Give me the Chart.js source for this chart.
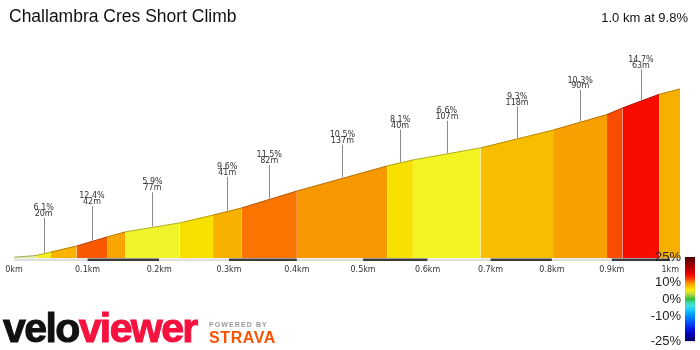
<!DOCTYPE html>
<html>
<head>
<meta charset="utf-8">
<script src="https://cdn.jsdelivr.net/npm/chart.js@4.4.1/dist/chart.umd.min.js"></script>
<style>
  body { margin: 0; background: #fff; }
  #marco { position: relative; width: 700px; height: 350px; overflow: hidden; font-family: "Liberation Sans", Arial, sans-serif; }
  #perfil, #escala { position: absolute; }
  #perfil { left: 0; top: 0; }
  #escala { left: 640px; top: 245px; }
  .titulo { position: absolute; color: #111; white-space: nowrap; }
  #nombre { left: 9px; top: 7px; font-size: 17.5px; line-height: 18px; }
  #resumen { right: 12px; top: 11px; font-size: 13px; line-height: 13px; }
  #logo { position: absolute; left: 3px; top: 308px; font-size: 41px; line-height: 41px; font-weight: bold; letter-spacing: -1.6px; -webkit-text-stroke: 1px currentColor; color: #111; }
  #logo span { color: #f5123e; }
  #powered { position: absolute; left: 209px; top: 321px; font-size: 7px; line-height: 7px; font-weight: bold; letter-spacing: 1.1px; color: #9a9a9a; }
  #strava { position: absolute; left: 209px; top: 329.5px; font-size: 16px; line-height: 16px; font-weight: 900; letter-spacing: 0.6px; color: #fc5200; }
</style>
</head>
<body>
<div id="marco">
  <canvas id="perfil" width="700" height="350"></canvas>
  <canvas id="escala" width="60" height="108"></canvas>
  <div class="titulo" id="nombre">Challambra Cres Short Climb</div>
  <div class="titulo" id="resumen">1.0 km at 9.8%</div>
  <div id="logo">velo<span>viewer</span></div>
  <div id="powered">POWERED BY</div>
  <div id="strava">STRAVA</div>
</div>
<script>
// Tramos de la subida: longitud (m), pendiente indicada (null = sin etiqueta)
const longitudes = [30, 20, 35, 42, 25, 77, 48, 41, 82, 137, 40, 107, 118, 90, 26, 63, 36];
const pendientes = [null, 6.1, null, 12.4, null, 5.9, null, 9.6, 11.5, 10.5, 8.1, 6.6, 9.3, 10.3, null, 14.7, null];
// Altura aparente (m) en cada límite de tramo
const elevacion = [0.5, 1.5, 3.6, 7.2, 12.6, 15.6, 21.0, 25.7, 29.9, 40.1, 55.1, 58.7, 65.9, 76.6, 85.9, 89.8, 98.0, 101.2];
const coloresTramo = ['#e5ec9a', '#f5f023', '#f9b200', '#f95800', '#f9a400', '#f1f32c', '#f8e000', '#f9b100', '#f97400',
                      '#f89800', '#f8e000', '#f3f322', '#f9bd00', '#f8a000', '#f84c00', '#f80c00', '#f8b000'];

// Eje de distancia
const ticksKm = [0, 0.1, 0.2, 0.3, 0.4, 0.5, 0.6, 0.7, 0.8, 0.9, 1];
const etiquetasKm = ['0km', '0.1km', '0.2km', '0.3km', '0.4km', '0.5km', '0.6km', '0.7km', '0.8km', '0.9km', '1km'];

// Escala de colores de pendiente
const escalaTicks = [-25, -10, 0, 10, 25];
const escalaColores = [
  [25, '#4a0000'], [20, '#a00000'], [15, '#e80000'], [12, '#ff3a00'], [10, '#ff8c00'], [7, '#ffcc00'],
  [5, '#f2ee10'], [3, '#c4d444'], [0, '#2fc03a'], [-2, '#3cd6a8'], [-4, '#3ee2e2'], [-7, '#12c0ff'],
  [-10, '#0090ff'], [-14, '#0050ff'], [-18, '#0014e0'], [-22, '#0000a4'], [-25, '#00005c']
];

const PROFUNDIDAD = 0.139;   // inclinación de la vista (perspectiva)

// Límites de cada tramo en km
const limites = [0];
longitudes.forEach(l => limites.push(limites[limites.length - 1] + l / 1000));
const totalKm = limites[limites.length - 1];

function oscurecer(hex, f) {
  const n = parseInt(hex.slice(1), 16);
  return `rgb(${((n >> 16) & 255) * f | 0}, ${((n >> 8) & 255) * f | 0}, ${(n & 255) * f | 0})`;
}

// Escala lineal con perspectiva: los tramos lejanos se ven más cortos
class EscalaPerspectiva extends Chart.LinearScale {
  getPixelForValue(value) {
    const t = (value - this.min) / (this.max - this.min);
    return this.left + this.width * t * (1 + PROFUNDIDAD) / (1 + PROFUNDIDAD * t);
  }
  getValueForPixel(pixel) {
    const f = (pixel - this.left) / this.width;
    const t = f / (1 + PROFUNDIDAD - PROFUNDIDAD * f);
    return this.min + t * (this.max - this.min);
  }
}
EscalaPerspectiva.id = 'perspectiva';
EscalaPerspectiva.defaults = Chart.LinearScale.defaults;
Chart.register(EscalaPerspectiva);

// Rayas de pendiente y longitud sobre cada tramo etiquetado
const marcadores = {
  id: 'marcadores',
  afterDatasetsDraw(chart) {
    const { ctx, scales: { x, y } } = chart;
    ctx.save();
    ctx.font = '8px "DejaVu Sans"';
    ctx.textAlign = 'center';
    ctx.textBaseline = 'middle';
    for (let i = 0; i < pendientes.length; i++) {
      if (pendientes[i] === null) continue;
      const x0 = x.getPixelForValue(limites[i]);
      const x1 = x.getPixelForValue(limites[i + 1]);
      const y0 = y.getPixelForValue(elevacion[i]);
      const y1 = y.getPixelForValue(elevacion[i + 1]);
      const px = x.getPixelForValue((limites[i] + limites[i + 1]) / 2);
      const py = y0 + (y1 - y0) * (px - x0) / (x1 - x0);
      const k = 1 / (1 + PROFUNDIDAD * (limites[i] + limites[i + 1]) / 2 / totalKm);
      const xl = Math.round(px) + 0.5;
      ctx.strokeStyle = '#8a8a8a';
      ctx.lineWidth = 1;
      ctx.beginPath();
      ctx.moveTo(xl, py - 1);
      ctx.lineTo(xl, py - 36 * k);
      ctx.stroke();
      ctx.fillStyle = '#333';
      ctx.fillText(longitudes[i] + 'm', px, py - 40 * k);
      ctx.fillText(pendientes[i].toFixed(1) + '%', px, py - 46.5 * k);
    }
    ctx.restore();
  }
};

const puntosPerfil = limites.map((km, i) => ({ x: km, y: elevacion[i] }));
const puntosRaya = ticksKm.concat([totalKm]).map(km => ({ x: km, y: -1.1 }));

new Chart(document.getElementById('perfil'), {
  type: 'line',
  data: {
    datasets: [
      {
        data: puntosPerfil,
        fill: 'origin',
        borderWidth: 1,
        pointRadius: 0,
        tension: 0,
        segment: {
          backgroundColor: c => coloresTramo[c.p0DataIndex],
          borderColor: c => oscurecer(coloresTramo[c.p0DataIndex], 0.72)
        }
      },
      {
        data: puntosRaya,
        fill: false,
        borderWidth: 2.5,
        borderCapStyle: 'butt',
        pointRadius: 0,
        segment: {
          borderColor: c => (c.p0DataIndex % 2 ? '#3a3a3a' : '#dedede')
        }
      }
    ]
  },
  options: {
    animation: false,
    responsive: false,
    devicePixelRatio: 1,
    layout: { padding: { left: 14, right: 20, top: 40, bottom: 74 } },
    plugins: { legend: { display: false }, tooltip: { enabled: false } },
    scales: {
      x: {
        type: 'perspectiva',
        min: 0,
        max: totalKm,
        afterBuildTicks: s => { s.ticks = ticksKm.map(v => ({ value: v })); },
        afterFit: s => { s.height = 14; },
        grid: { display: false, drawTicks: false },
        border: { display: false },
        ticks: {
          autoSkip: false,
          maxRotation: 0,
          padding: 3,
          color: '#333',
          font: { family: 'DejaVu Sans', size: 8 },
          callback: (v, i) => etiquetasKm[i]
        }
      },
      y: { display: false, min: -2.4, max: 130.5 }
    }
  },
  plugins: [marcadores]
});

// Barra de colores de pendiente
new Chart(document.getElementById('escala'), {
  type: 'bar',
  data: {
    labels: [''],
    datasets: [{
      data: [[escalaTicks[0], escalaTicks[escalaTicks.length - 1]]],
      barPercentage: 1,
      categoryPercentage: 1,
      borderWidth: 0,
      backgroundColor: c => {
        const area = c.chart.chartArea;
        if (!area) return '#ccc';
        const g = c.chart.ctx.createLinearGradient(0, area.bottom, 0, area.top);
        escalaColores.forEach(([p, col]) => g.addColorStop((p + 25) / 50, col));
        return g;
      }
    }]
  },
  options: {
    animation: false,
    responsive: false,
    devicePixelRatio: 1,
    layout: { padding: { top: 12, bottom: 9, right: 5, left: 0 } },
    plugins: { legend: { display: false }, tooltip: { enabled: false } },
    scales: {
      x: { display: false },
      y: {
        min: -25,
        max: 25,
        afterBuildTicks: s => { s.ticks = escalaTicks.map(v => ({ value: v })); },
        afterFit: s => { s.width = 45; },
        grid: { display: false, drawTicks: false },
        border: { display: false },
        ticks: {
          padding: 4,
          color: '#222',
          font: { family: 'Liberation Sans', size: 13 },
          callback: v => v + '%'
        }
      }
    }
  }
});
</script>
</body>
</html>
